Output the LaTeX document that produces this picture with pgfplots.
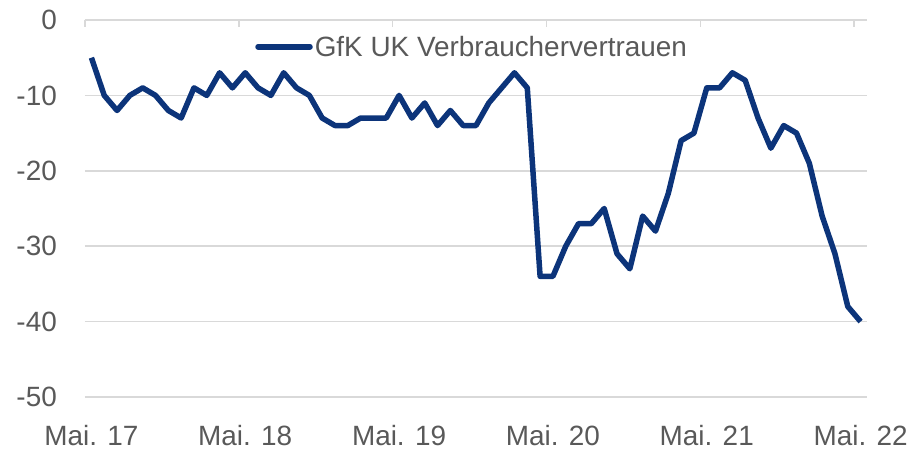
\documentclass[border=0pt]{standalone}
\usepackage{pgfplots}
\pgfplotsset{compat=1.18}
\usepackage{fontspec}
\setmainfont{Liberation Sans}
\definecolor{linecol}{RGB}{12,52,122}
\definecolor{gridgray}{RGB}{217,217,217}
\definecolor{txtgray}{RGB}{89,89,89}
\begin{document}
\begin{tikzpicture}
\useasboundingbox (-85bp,-52bp) rectangle (828bp,397bp);
\begin{axis}[
  at={(0,0)}, anchor=south west,
  scale only axis, width=782bp, height=377bp,
  xmin=-0.5, xmax=60.5, ymin=-50, ymax=0,
  axis line style={draw=none},
  tick style={draw=none},
  ytick={-50,-40,-30,-20,-10,0},
  yticklabels={-50,-40,-30,-20,-10,0},
  ymajorgrids,
  grid style={color=gridgray, line width=1.5bp},
  xtick={0,12,24,36,48,60},
  xticklabels={Mai. 17,Mai. 18,Mai. 19,Mai. 20,Mai. 21,Mai. 22},
  tick align=inside,
  yticklabel style={anchor=east, inner sep=0pt, xshift=-28bp, text=txtgray, font=\fontsize{28}{33}\selectfont},
  xticklabel style={anchor=base, inner sep=0pt, yshift=-48bp, text=txtgray, font=\fontsize{28}{33}\selectfont},
  legend style={at={(0.495,0.929)}, anchor=center, draw=none, fill=none, inner sep=0pt,
    font=\fontsize{28}{33}\selectfont, text=txtgray, nodes={inner sep=2bp}},
  legend image code/.code={\draw[#1, line cap=round] (0bp,0bp) -- (52bp,0bp);},
  legend cell align=left,
]
\addplot[color=linecol, line width=5.5bp, line join=round] coordinates {
(0,-5) (1,-10) (2,-12) (3,-10) (4,-9) (5,-10) (6,-12) (7,-13) (8,-9) (9,-10)
(10,-7) (11,-9) (12,-7) (13,-9) (14,-10) (15,-7) (16,-9) (17,-10) (18,-13) (19,-14)
(20,-14) (21,-13) (22,-13) (23,-13) (24,-10) (25,-13) (26,-11) (27,-14) (28,-12) (29,-14)
(30,-14) (31,-11) (32,-9) (33,-7) (34,-9) (35,-34) (36,-34) (37,-30) (38,-27) (39,-27)
(40,-25) (41,-31) (42,-33) (43,-26) (44,-28) (45,-23) (46,-16) (47,-15) (48,-9) (49,-9)
(50,-7) (51,-8) (52,-13) (53,-17) (54,-14) (55,-15) (56,-19) (57,-26) (58,-31) (59,-38)
(60,-40)
};
\addlegendentry{GfK UK Verbrauchervertrauen}
\end{axis}
\begin{axis}[
  at={(0,0)}, anchor=south west,
  scale only axis, width=782bp, height=377bp,
  xmin=-0.5, xmax=60.5, ymin=-50, ymax=0,
  axis line style={draw=none},
  ytick=\empty,
  xtick={-0.5,11.5,23.5,35.5,47.5,59.5},
  xticklabels={},
  xtick pos=upper, tick align=inside,
  major tick length=7bp,
  xtick style={color=gridgray, line width=1.5bp},
]
\end{axis}
\end{tikzpicture}
\end{document}
